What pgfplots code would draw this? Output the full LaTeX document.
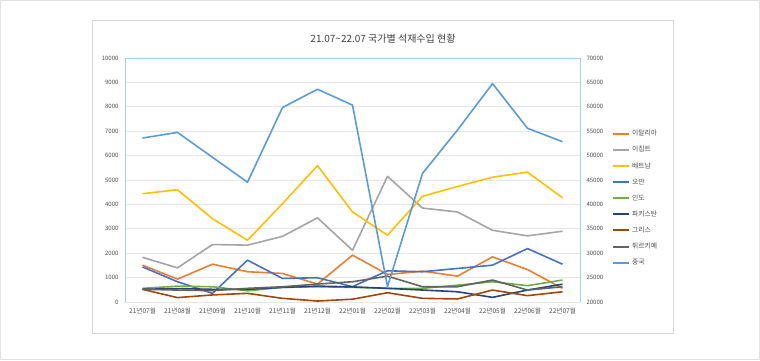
\documentclass[border=0pt]{standalone}
\usepackage{pgfplots}
\pgfplotsset{compat=1.18}
\usepackage{fontspec}
\setmainfont{Noto Sans CJK KR}
\definecolor{cIT}{HTML}{ED7D31}
\definecolor{cEG}{HTML}{A5A5A5}
\definecolor{cVN}{HTML}{FFC000}
\definecolor{cOM}{HTML}{4472C4}
\definecolor{cIN}{HTML}{70AD47}
\definecolor{cPK}{HTML}{264478}
\definecolor{cGR}{HTML}{9E480E}
\definecolor{cTR}{HTML}{636363}
\definecolor{cCN}{HTML}{5B9BD5}
\definecolor{axblue}{HTML}{A9CBEA}
\definecolor{txt}{HTML}{4D4D4D}
\definecolor{grid}{HTML}{E6E6E6}
\definecolor{outer}{HTML}{E1E1E1}
\definecolor{inner}{HTML}{D7D7D7}
\definecolor{ttl}{HTML}{404040}
\begin{document}
\begin{tikzpicture}
\useasboundingbox (0pt,0pt) rectangle (760pt,360pt);
\draw[line width=0.8pt, draw=outer] (0.5pt,0.5pt) rectangle (759.5pt,359.5pt);
\draw[line width=0.6pt, draw=inner] (92pt,27pt) rectangle (673pt,339.3pt);
\node[text=ttl, font=\fontsize{10}{12}\selectfont] at (383pt,321pt) {21.07\textasciitilde22.07 국가별 석재수입 현황};
\pgfplotsset{
  myaxis/.style={
    scale only axis, width=455pt, height=244pt,
    at={(125pt,58pt)}, anchor=south west,
    xmin=-0.5, xmax=12.5,
    major tick length=0pt,
    scaled y ticks=false,
    ticklabel style={text=txt, font=\fontsize{6}{6.5}\selectfont},
    /pgf/number format/assume math mode=true,
    /pgf/number format/1000 sep={},
    every axis plot/.append style={line width=1.6pt, mark=none, line join=round},
  }
}
\begin{axis}[myaxis,
  ymin=0, ymax=10000, ytick={0,1000,...,10000},
  axis y line*=left, axis x line*=bottom,
  y axis line style={draw=axblue, line width=0.9pt},
  x axis line style={draw=grid, line width=0.8pt},
  ymajorgrids, grid style={draw=grid, line width=0.8pt},
  xtick={0,...,12},
  xticklabels={21년07월,21년08월,21년09월,21년10월,21년11월,21년12월,22년01월,22년02월,22년03월,22년04월,22년05월,22년06월,22년07월},
  xticklabel style={font=\fontsize{6.6}{7}\selectfont, yshift=-3pt},
  yticklabel style={xshift=-3pt},
]
\addplot[cIT] coordinates {(0,1510)(1,940)(2,1550)(3,1240)(4,1170)(5,735)(6,1920)(7,1130)(8,1265)(9,1060)(10,1850)(11,1330)(12,560)};
\addplot[cEG] coordinates {(0,1830)(1,1400)(2,2355)(3,2330)(4,2690)(5,3450)(6,2120)(7,5150)(8,3850)(9,3690)(10,2940)(11,2710)(12,2900)};
\addplot[cVN] coordinates {(0,4440)(1,4600)(2,3415)(3,2530)(4,4030)(5,5590)(6,3690)(7,2740)(8,4330)(9,4735)(10,5115)(11,5320)(12,4270)};
\addplot[cOM] coordinates {(0,1440)(1,830)(2,355)(3,1715)(4,965)(5,995)(6,630)(7,1280)(8,1240)(9,1375)(10,1510)(11,2190)(12,1550)};
\addplot[cIN] coordinates {(0,560)(1,650)(2,625)(3,460)(4,600)(5,625)(6,600)(7,560)(8,560)(9,690)(10,830)(11,670)(12,900)};
\addplot[cPK] coordinates {(0,520)(1,550)(2,520)(3,520)(4,600)(5,650)(6,620)(7,560)(8,490)(9,420)(10,190)(11,490)(12,730)};
\addplot[cGR] coordinates {(0,520)(1,180)(2,290)(3,355)(4,150)(5,40)(6,115)(7,380)(8,150)(9,125)(10,490)(11,260)(12,420)};
\addplot[cTR] coordinates {(0,520)(1,490)(2,465)(3,560)(4,625)(5,735)(6,830)(7,1060)(8,625)(9,625)(10,900)(11,490)(12,625)};
\end{axis}
\begin{axis}[myaxis,
  ymin=20000, ymax=70000, ytick={20000,25000,...,70000},
  axis y line*=right, axis x line*=top,
  y axis line style={draw=axblue, line width=0.9pt},
  x axis line style={draw=axblue, line width=0.9pt},
  xtick=\empty,
  yticklabel style={xshift=3pt},
  legend style={at={(1.07,0.426)}, anchor=west, draw=none, fill=none,
    font=\fontsize{6.8}{7}\selectfont, text=txt, row sep=5pt,
    inner sep=0pt},
  legend cell align=left,
  legend image code/.code={\draw[#1, line width=2pt] (0pt,0pt) -- (16pt,0pt);},
]
\addlegendimage{cIT}\addlegendentry{이탈리아}
\addlegendimage{cEG}\addlegendentry{이집트}
\addlegendimage{cVN}\addlegendentry{베트남}
\addlegendimage{cOM}\addlegendentry{오만}
\addlegendimage{cIN}\addlegendentry{인도}
\addlegendimage{cPK}\addlegendentry{파키스탄}
\addlegendimage{cGR}\addlegendentry{그리스}
\addlegendimage{cTR}\addlegendentry{튀르키예}
\addplot[cCN] coordinates {(0,53600)(1,54750)(2,49650)(3,44550)(4,59850)(5,63600)(6,60350)(7,23150)(8,46350)(9,55250)(10,64750)(11,55600)(12,52850)};
\addlegendentry{중국}
\end{axis}
\end{tikzpicture}
\end{document}
